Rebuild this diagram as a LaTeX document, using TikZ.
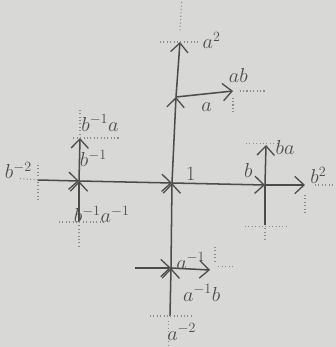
\documentclass[tikz,border=0pt]{standalone}
\usepackage{amsmath}
\usepackage{tikz}
\usetikzlibrary{arrows.meta}
\definecolor{Paper}{HTML}{D8D8D6}
\definecolor{Pencil}{HTML}{4C4C4C}
\definecolor{Faint}{HTML}{8C8C8C}

\begin{document}
\begin{tikzpicture}[font=\LARGE,
  edge/.style={draw=Pencil,line width=1.3pt,-{Straight Barb[length=2.8mm,width=5.2mm,line width=1.1pt]}},
  plain/.style={draw=Pencil,line width=1.3pt},
  stub/.style={draw=Faint,line width=0.9pt,dotted},
  lbl/.style={text=Pencil,inner sep=1pt}]
  \fill[Paper] (0,0) rectangle (10.08,10.41);
  \useasboundingbox (0,0) rectangle (10.08,10.41);
  % vertices of the graph
  \coordinate (one) at (5.16,4.92);
  \coordinate (a) at (5.28,7.50);
  \coordinate (a2) at (5.40,9.15);
  \coordinate (ab) at (6.99,7.68);
  \coordinate (b) at (7.95,4.86);
  \coordinate (b2) at (9.15,4.86);
  \coordinate (ba) at (7.98,6.06);
  \coordinate (bai) at (7.95,3.66);
  \coordinate (binv) at (2.37,4.98);
  \coordinate (binva) at (2.40,6.27);
  \coordinate (binvainv) at (2.37,3.75);
  \coordinate (b2inv) at (1.14,5.01);
  \coordinate (ainv) at (5.13,2.37);
  \coordinate (ainvb) at (6.30,2.31);
  \coordinate (ainvbinv) at (4.05,2.37);
  \coordinate (a2inv) at (5.10,0.93);
  % edges, tip at the target
  \draw[edge] (one) -- (a);
  \draw[edge] (a) -- (a2);
  \draw[edge] (a) -- (ab);
  \draw[edge] (one) -- (b);
  \draw[edge] (b) -- (b2);
  \draw[edge] (b) -- (ba);
  \draw[plain] (bai) -- (b);
  \draw[edge] (binv) -- (one);
  \draw[edge] (b2inv) -- (binv);
  \draw[edge] (binv) -- (binva);
  \draw[edge] (binvainv) -- (binv);
  \draw[edge] (ainv) -- (one);
  \draw[edge] (a2inv) -- (ainv);
  \draw[edge] (ainvbinv) -- (ainv);
  \draw[edge] (ainv) -- (ainvb);
  % dotted continuations
  \draw[stub] (a2) ++(-0.6,0) -- ++(1.2,0);
  \draw[stub] (a2) ++(0,0.35) -- ++(0.05,0.9);
  \draw[stub] (ab) ++(0.2,0) -- ++(0.8,0);
  \draw[stub] (ab) ++(0,-0.2) -- ++(0,-0.5);
  \draw[stub] (ba) ++(-0.6,0.05) -- ++(1.0,0);
  \draw[stub] (b2) ++(0.3,0) -- ++(0.6,0);
  \draw[stub] (b2) ++(0,-0.3) -- ++(0,-0.6);
  \draw[stub] (bai) ++(-0.6,-0.05) -- ++(1.3,0);
  \draw[stub] (bai) ++(0,-0.1) -- ++(0,-0.4);
  \draw[stub] (binva) ++(-0.2,0) -- ++(1.4,0);
  \draw[stub] (binva) ++(0,0.1) -- ++(0,0.8);
  \draw[stub] (b2inv) ++(0,0.45) -- ++(0,-1.05);
  \draw[stub] (b2inv) -- ++(-0.6,0.05);
  \draw[stub] (binvainv) ++(-0.6,0) -- ++(1.4,0);
  \draw[stub] (binvainv) ++(0,-0.1) -- ++(0,-0.7);
  \draw[stub] (ainvb) ++(0.25,0.1) -- ++(0.5,0);
  \draw[stub] (ainvb) ++(0.15,0.25) -- ++(0,0.45);
  \draw[stub] (a2inv) ++(-0.6,0) -- ++(1.3,0);
  \draw[stub] (a2inv) ++(-0.05,-0.15) -- ++(0,-0.8);
  % labels
  \node[lbl] (Lone) at (5.72,5.20) {$1$};
  \node[lbl] (La) at (6.20,7.20) {$a$};
  \node[lbl] (La2) at (6.35,9.20) {$a^2$};
  \node[lbl] (Lab) at (7.15,8.15) {$ab$};
  \node[lbl] (Lb) at (7.45,5.30) {$b$};
  \node[lbl] (Lb2) at (9.55,5.15) {$b^2$};
  \node[lbl] (Lba) at (8.55,6.00) {$ba$};
  \node[lbl] (Lbinv) at (2.80,5.65) {$b^{-1}$};
  \node[lbl] (Lbinva) at (3.00,6.72) {$b^{-1}a$};
  \node[lbl] (Lbinvainv) at (3.05,3.98) {$b^{-1}a^{-1}$};
  \node[lbl] (Lb2inv) at (0.55,5.30) {$b^{-2}$};
  \node[lbl] (Lainv) at (5.72,2.58) {$a^{-1}$};
  \node[lbl] (Lainvb) at (6.05,1.62) {$a^{-1}b$};
  \node[lbl] (La2inv) at (5.45,0.45) {$a^{-2}$};
\end{tikzpicture}
\end{document}
